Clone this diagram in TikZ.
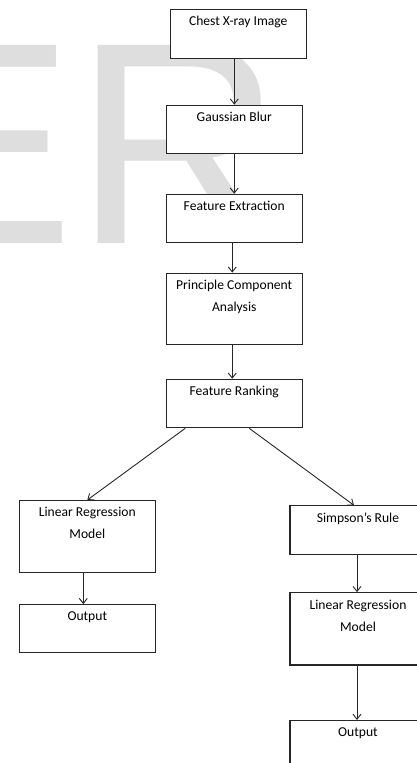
\documentclass[tikz,border=0pt]{standalone}
\usepackage{fontspec}
\setmainfont{Carlito}
\newfontfamily\wmfont{Liberation Sans}
\usetikzlibrary{arrows.meta,positioning,calc}
\definecolor{wmgray}{RGB}{222,222,222}
\definecolor{inkgray}{RGB}{38,38,38}

\begin{document}
\begin{tikzpicture}[
            x=1pt, y=-1pt,
            stage/.style={draw=inkgray, fill=white, line width=1.1pt, inner sep=0pt,
                font=\fontsize{13.6pt}{22pt}\selectfont,
                execute at begin node={\begin{minipage}[c][#1][t]{136pt}\centering\vspace*{7pt}},
                execute at end node={\end{minipage}}},
            link/.style={->, draw=inkgray, line width=0.9pt},
            >={Straight Barb[length=5pt,width=8pt]}
        ]
        \clip (0,0) rectangle (417,763);
        \useasboundingbox (0,0) rectangle (417,763);

        % Watermark %
        \node[anchor=base west, inner sep=0pt, text=wmgray,
              font=\wmfont\fontsize{288pt}{288pt}\selectfont] (wm) at (-117.7,243) {ER};

        % Draw main column %
        \node[stage=48.5pt, anchor=north] (cxr) at (238.25,9) {Chest X-ray Image};
        \node[stage=48.5pt, below=46pt of cxr, xshift=-4pt] (blur) {Gaussian Blur};
        \node[stage=48.5pt, below=39.5pt of blur] (feat) {Feature Extraction};
        \node[stage=71pt, below=29.3pt of feat] (pca) {Principle Component\\Analysis};
        \node[stage=48.5pt, below=34pt of pca] (rank) {Feature Ranking};

        % Draw left branch %
        \node[stage=72pt, anchor=north] (lrl) at (87.3,500) {Linear Regression\\Model};
        \node[stage=48pt, below=31pt of lrl] (outl) {Output};

        % Draw right branch %
        \node[stage=48.7pt, anchor=north] (simp) at (358,505.3) {Simpson’s Rule};
        \node[stage=72.3pt, below=37pt of simp] (lrr) {Linear Regression\\Model};
        \node[stage=48pt, below=54.4pt of lrr] (outr) {Output};

        % Draw arrows %
        \draw[link] (cxr.south -| blur.north) -- (blur.north);
        \draw[link] (blur) -- (feat);
        \draw[link] ([xshift=-2pt]feat.south) -- ([xshift=-2pt]pca.north);
        \draw[link] ([xshift=-2pt]pca.south) -- ([xshift=-2pt]rank.north);
        \draw[link] ($(rank.south)+(-49pt,0)$) -- (lrl.north);
        \draw[link] ($(rank.south)+(15pt,0)$) -- ([xshift=-4pt]simp.north);
        \draw[link] ([xshift=-4pt]lrl.south) -- ([xshift=-4pt]outl.north);
        \draw[link] ([xshift=-1pt]simp.south) -- ([xshift=-1pt]lrr.north);
        \draw[link] ([xshift=-1pt]lrr.south) -- ([xshift=-1pt]outr.north);
\end{tikzpicture}
\end{document}
